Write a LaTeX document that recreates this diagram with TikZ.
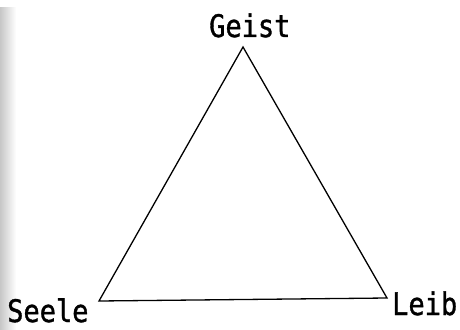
\documentclass[tikz,border=0pt]{standalone}
\usepackage{fontspec}
\newfontfamily\typew[FakeBold=1.2]{DejaVu Sans Mono}
\begin{document}
\begin{tikzpicture}[x=1pt,y=-1pt,
  lbl/.style={inner sep=0pt,anchor=base west,text depth=0pt,font=\typew\fontsize{27}{30}\selectfont,yscale=1.15},
  edge/.style={line width=1.3pt,line join=miter}]
\useasboundingbox (0,0) rectangle (460,329);
\shade[left color=black!22,right color=white] (0,8) rectangle (16,329);
\coordinate (T) at (243,47);
\coordinate (L) at (99,301);
\coordinate (R) at (387,298);
\node[lbl] (geist) at (209,37) {Geist};
\node[lbl] (seele) at (7,322) {Seele};
\node[lbl] (leib) at (392,315) {Leib};
\draw[edge] (T) -- (L) -- (R) -- cycle;
\end{tikzpicture}
\end{document}
